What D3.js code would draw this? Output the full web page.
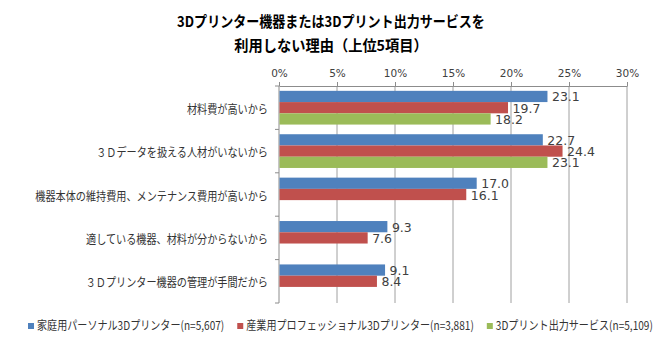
<!DOCTYPE html>
<html><head><meta charset="utf-8">
<script src="https://cdn.jsdelivr.net/npm/d3@7"></script>
<style>body{margin:0;background:#fff}</style></head><body>
<svg id="c" width="665" height="353"></svg>
<script>
const titleLines = ["3Dプリンター機器または3Dプリント出力サービスを", "利用しない理由（上位5項目）"];
const categories = ["材料費が高いから", "３Ｄデータを扱える人材がいないから", "機器本体の維持費用、メンテナンス費用が高いから", "適している機器、材料が分からないから", "３Ｄプリンター機器の管理が手間だから"];
const seriesNames = ["家庭用パーソナル3Dプリンター(n=5,607)", "産業用プロフェッショナル3Dプリンター(n=3,881)", "3Dプリント出力サービス(n=5,109)"];
const personal = [23.1, 22.7, 17.0, 9.3, 9.1];
const industrial = [19.7, 24.4, 16.1, 7.6, 8.4];
const service = [18.2, 23.1, null, null, null];
const xTicks = [0, 5, 10, 15, 20, 25, 30];
const colors = ["#4F81BD", "#C0504D", "#9BBB59"];

const series = [personal, industrial, service];
const svg = d3.select("#c");
const JP = "'Noto Sans CJK JP', sans-serif";
const NUM = "'DejaVu Sans', sans-serif";

// draws a horizontally condensed text at (px, py); returns condensed width
function condensed(parent, px, py, str, f, anchor, attrs) {
  const g = parent.append("g").attr("transform", `translate(${px},${py}) scale(${f},1)`);
  const t = g.append("text").attr("x", 0).attr("y", 0).attr("text-anchor", anchor).text(str);
  Object.entries(attrs).forEach(([k, v]) => t.attr(k, v));
  return t.node().getComputedTextLength() * f;
}

// title
const titleAttrs = { "font-family": JP, "font-weight": "bold", "font-size": 15, "fill": "#000" };
condensed(svg, 331, 27, titleLines[0], 0.87, "middle", titleAttrs);
condensed(svg, 331, 51, titleLines[1], 0.95, "middle", titleAttrs);

const x = d3.scaleLinear().domain([0, 30]).range([279, 627]);
const y = d3.scaleBand().domain(d3.range(categories.length)).range([86, 303]);
const inner = d3.scaleBand().domain(d3.range(series.length)).range([0, y.bandwidth()]).paddingOuter(0.43);

// gridlines
svg.append("g").selectAll("line").data(xTicks.filter(t => t > 0)).join("line")
  .attr("x1", d => x(d)).attr("x2", d => x(d))
  .attr("y1", 86).attr("y2", 303)
  .attr("stroke", "#a0a0a0").attr("stroke-width", 1);

// top axis
const ax = svg.append("g").attr("transform", "translate(0,86)")
  .call(d3.axisTop(x).tickValues(xTicks).tickFormat(d => d + "%").tickSize(4).tickSizeOuter(0).tickPadding(5));
ax.select(".domain").attr("stroke", "#8c8c8c");
ax.selectAll(".tick line").attr("stroke", "#8c8c8c");
ax.selectAll("text").attr("font-family", NUM).attr("font-size", 10.5).attr("fill", "#404040");

// left axis
svg.append("line").attr("x1", 279).attr("x2", 279).attr("y1", 86).attr("y2", 303)
  .attr("stroke", "#8c8c8c");
svg.append("g").selectAll("line").data(d3.range(categories.length + 1)).join("line")
  .attr("x1", 275).attr("x2", 279)
  .attr("y1", d => 86 + d * y.step()).attr("y2", d => 86 + d * y.step())
  .attr("stroke", "#8c8c8c");

// category labels
const catG = svg.append("g");
categories.forEach((c, i) => {
  condensed(catG, 268, y(i) + y.bandwidth() / 2 + 6, c, 0.845, "end",
    { "font-family": JP, "font-size": 12, "fill": "#333" });
});

// bars
series.forEach((vals, s) => {
  const g = svg.append("g");
  const data = vals.map((v, i) => ({ v, i })).filter(d => d.v != null);
  g.selectAll("rect").data(data).join("rect")
    .attr("x", x(0) + 0.5)
    .attr("y", d => y(d.i) + inner(s))
    .attr("width", d => x(d.v) - x(0))
    .attr("height", inner.bandwidth())
    .attr("fill", colors[s]);
  g.selectAll("text").data(data).join("text")
    .attr("x", d => x(d.v) + 5)
    .attr("y", d => y(d.i) + inner(s) + inner.bandwidth() / 2 + 5)
    .attr("font-family", NUM).attr("font-size", 12.5).attr("fill", "#404040")
    .text(d => d.v.toFixed(1));
});

// legend
const lg = svg.append("g");
let lx = 28;
seriesNames.forEach((name, s) => {
  lg.append("rect").attr("x", lx).attr("y", 323).attr("width", 6).attr("height", 6).attr("fill", colors[s]);
  const w = condensed(lg, lx + 9, 330, name, 0.84, "start",
    { "font-family": JP, "font-size": 12, "fill": "#333" });
  lx += 9 + w + 13;
});
</script>
</body></html>
